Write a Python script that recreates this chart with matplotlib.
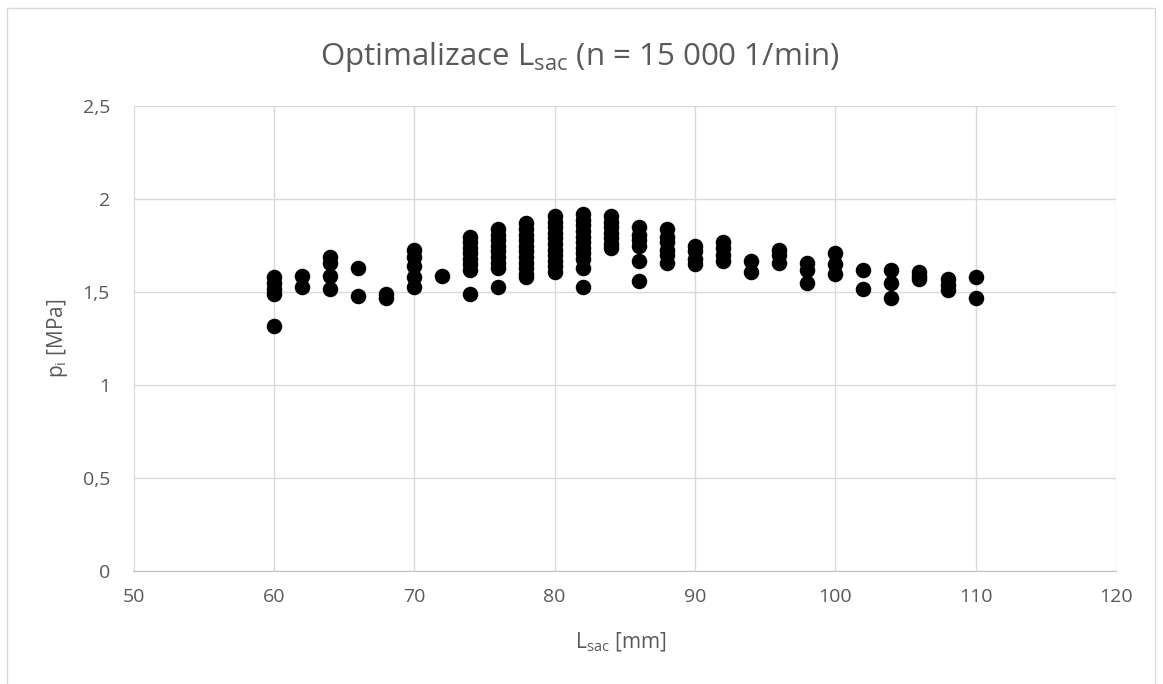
import matplotlib
matplotlib.use("Agg")
import matplotlib.pyplot as plt
from matplotlib.patches import Rectangle
from matplotlib.ticker import FuncFormatter

# ---- data ----
lsac_mm = [60, 62, 64, 66, 68, 70, 72, 74, 76, 78, 80, 82, 84, 86, 88, 90,
           92, 94, 96, 98, 100, 102, 104, 106, 108, 110]
p_i_columns = [
    [1.58, 1.55, 1.52, 1.49, 1.32],
    [1.59, 1.53],
    [1.69, 1.66, 1.59, 1.52],
    [1.63, 1.48],
    [1.49, 1.47],
    [1.73, 1.69, 1.64, 1.58, 1.53],
    [1.59],
    [1.80, 1.77, 1.74, 1.71, 1.68, 1.65, 1.62, 1.49],
    [1.84, 1.81, 1.78, 1.75, 1.72, 1.69, 1.66, 1.63, 1.53],
    [1.87, 1.84, 1.81, 1.78, 1.75, 1.72, 1.69, 1.66, 1.63, 1.60, 1.58],
    [1.91, 1.88, 1.85, 1.82, 1.79, 1.76, 1.73, 1.70, 1.67, 1.64, 1.61],
    [1.92, 1.89, 1.86, 1.83, 1.80, 1.77, 1.74, 1.71, 1.68, 1.63, 1.53],
    [1.91, 1.88, 1.85, 1.82, 1.79, 1.76, 1.74],
    [1.85, 1.81, 1.78, 1.75, 1.67, 1.56],
    [1.84, 1.80, 1.77, 1.73, 1.70, 1.66],
    [1.75, 1.72, 1.68, 1.65],
    [1.77, 1.74, 1.70, 1.67],
    [1.67, 1.61],
    [1.73, 1.70, 1.66],
    [1.66, 1.62, 1.55],
    [1.71, 1.65, 1.60],
    [1.62, 1.52],
    [1.62, 1.55, 1.47],
    [1.61, 1.59, 1.57],
    [1.57, 1.54, 1.51],
    [1.58, 1.47],
]
x_ticks = [50, 60, 70, 80, 90, 100, 110, 120]
y_ticks = [0, 0.5, 1, 1.5, 2, 2.5]
title_text = r"Optimalizace L$_{\mathregular{sac}}$ (n = 15 000 1/min)"
xlabel_text = r"L$_{\mathregular{sac}}$ [mm]"
ylabel_text = r"p$_{\mathregular{i}}$ [MPa]"

xs, ys = [], []
for L, col in zip(lsac_mm, p_i_columns):
    for p in col:
        xs.append(L)
        ys.append(p)

plt.rcParams['font.family'] = ['Open Sans', 'DejaVu Sans']
plt.rcParams['mathtext.fontset'] = 'custom'
plt.rcParams['mathtext.rm'] = 'Open Sans'

W, H = 1163, 684
fig = plt.figure(figsize=(W / 100, H / 100), dpi=100)
fig.patch.set_facecolor('white')

# chart-area border
fig.add_artist(Rectangle((7 / W, -0.05), (1155 - 7) / W, (684 - 8) / H + 0.05,
                         transform=fig.transFigure, fill=False,
                         edgecolor='#d9d9d9', linewidth=1.0))

left, right, top, bottom = 133.5, 1116, 106.3, 571.3
ax = fig.add_axes([left / W, 1 - bottom / H, (right - left) / W, (bottom - top) / H])

ax.scatter(xs, ys, s=125, color='black', zorder=3, linewidths=0)

ax.set_xlim(50, 120)
ax.set_ylim(0, 2.5)
ax.set_xticks(x_ticks)
ax.set_yticks(y_ticks)
ax.yaxis.set_major_formatter(FuncFormatter(lambda v, _: (f"{v:g}").replace('.', ',')))
ax.grid(True, color='#d9d9d9', linewidth=1.0, zorder=0)
ax.set_axisbelow(True)
for s in ['top', 'right']:
    ax.spines[s].set_visible(False)
ax.spines['left'].set_color('#d9d9d9')
ax.spines['bottom'].set_color('#bfbfbf')
ax.tick_params(length=0, labelsize=14, colors='#595959')
ax.tick_params(axis='x', pad=12)
ax.tick_params(axis='y', pad=17)

fig.text(580 / W, 1 - 65 / H, title_text, ha='center', va='baseline',
         fontsize=22.5, color='#595959')
fig.text(621 / W, 1 - 648 / H, xlabel_text, ha='center', va='baseline',
         fontsize=15, color='#595959')
fig.text(58 / W, 1 - 338 / H, ylabel_text, ha='center', va='center',
         fontsize=15, color='#595959', rotation=90)

fig.savefig('out.png', dpi=100)
